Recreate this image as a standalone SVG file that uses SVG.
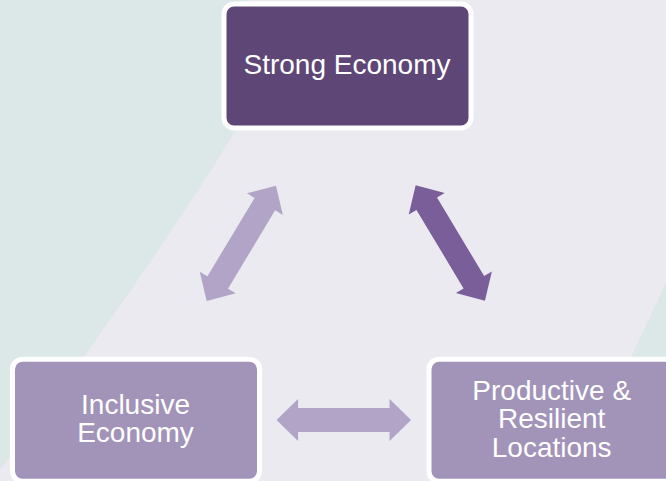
<svg xmlns="http://www.w3.org/2000/svg" width="666" height="481" viewBox="0 0 666 481">
  <defs>
    <style>
      .box { stroke: #ffffff; stroke-width: 5; }
      .dark { fill: #5e4777; }
      .mid { fill: #a293b8; }
      .label { font-family: "Liberation Sans", Arial, sans-serif; font-size: 28px; fill: #ffffff; text-anchor: middle; }
      .arrow-light { fill: #b2a4c6; }
      .arrow-dark { fill: #7a5e9a; }
    </style>
    <!-- double-headed block arrow, centred on the origin, pointing along x -->
    <path id="dbl-arrow" d="M -67.25,0 L -45.75,-21 L -45.75,-12 L 45.75,-12 L 45.75,-21 L 67.25,0 L 45.75,21 L 45.75,12 L -45.75,12 L -45.75,21 Z"/>
  </defs>

  <!-- backdrop -->
  <rect x="0" y="0" width="666" height="481" fill="#dce7e7"/>
  <path d="M 248,0 L 671,0 L 671,272 L 632,355 L 612,486 L -5,486 L -5,476 C 81,366 174,230 236,130 Z" fill="#ebeaf0"/>

  <!-- connectors -->
  <g id="connectors">
    <use href="#dbl-arrow" class="arrow-light" transform="translate(241.3,243.3) rotate(-59)"/>
    <use href="#dbl-arrow" class="arrow-dark" transform="translate(450.3,243) rotate(59)"/>
    <use href="#dbl-arrow" class="arrow-light" transform="translate(343.8,420)"/>
  </g>

  <g id="strong-economy">
    <rect class="box dark" x="224" y="4" width="247" height="124" rx="10"/>
    <text class="label" x="347" y="74">Strong Economy</text>
  </g>

  <g id="inclusive-economy">
    <rect class="box mid" x="12.5" y="359.2" width="247" height="122" rx="10"/>
    <text class="label" x="135.5" y="414.3">Inclusive</text>
    <text class="label" x="135.5" y="442.3">Economy</text>
  </g>

  <g id="productive-resilient-locations">
    <rect class="box mid" x="429" y="359.2" width="247" height="122" rx="10"/>
    <text class="label" x="551.7" y="400">Productive &amp;</text>
    <text class="label" x="551.7" y="428.4">Resilient</text>
    <text class="label" x="551.7" y="456.8">Locations</text>
  </g>
</svg>
